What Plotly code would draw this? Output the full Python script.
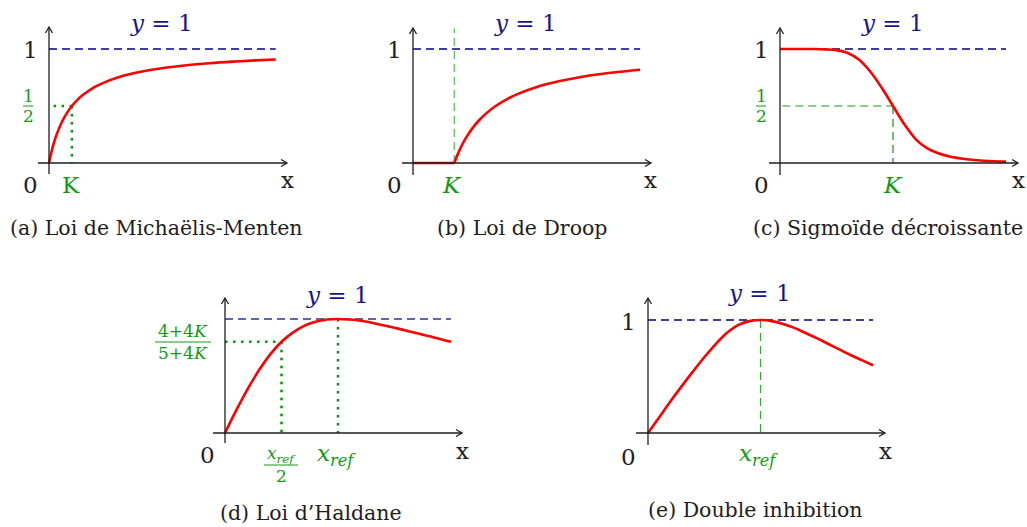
import plotly.graph_objects as go

W, H = 1027, 527

# ---- data ---------------------------------------------------------
# (a) Michaelis-Menten, x in units of K
mm_x = [0, 0.05, 0.1, 0.2, 0.3, 0.45, 0.6, 0.8, 1.0, 1.25, 1.5, 1.75, 2, 2.5, 3, 3.5, 4, 5, 6, 7, 8, 9, 9.9]
mm_y = [0, 0.048, 0.091, 0.167, 0.231, 0.31, 0.375, 0.444, 0.5, 0.556, 0.6, 0.636, 0.667, 0.714,
        0.75, 0.778, 0.8, 0.833, 0.857, 0.875, 0.889, 0.9, 0.908]
mm_K, mm_half = 1.0, 0.5

# (b) Droop, x in units of K
droop_x = [0, 1, 1.05, 1.1, 1.2, 1.3, 1.45, 1.6, 1.8, 2, 2.3, 2.6, 3, 3.5, 4, 4.5, 5, 5.5]
droop_y = [0, 0, 0.048, 0.091, 0.167, 0.231, 0.31, 0.375, 0.444, 0.5, 0.565, 0.615, 0.667,
           0.714, 0.75, 0.778, 0.8, 0.818]
droop_K = 1.0

# (c) sigmoide decroissante
sig_x = [0, 0.1, 0.2, 0.3, 0.4, 0.5, 0.6, 0.7, 0.8, 0.9, 1.0, 1.1, 1.2, 1.3, 1.4, 1.5, 1.6, 1.7, 1.8, 1.9, 2.0]
sig_y = [1, 1, 1, 1, 0.997, 0.99, 0.965, 0.905, 0.8, 0.66, 0.5, 0.34, 0.21, 0.13, 0.085, 0.057,
         0.04, 0.028, 0.02, 0.015, 0.012]
sig_K, sig_half = 1.0, 0.5

# (d) Haldane, x in units of x_ref
hal_x = [0, 0.1, 0.2, 0.3, 0.4, 0.5, 0.6, 0.7, 0.8, 0.9, 1.0, 1.1, 1.2, 1.3, 1.4, 1.5, 1.6, 1.7, 1.8, 1.9, 2.0]
hal_y = [0, 0.2, 0.385, 0.55, 0.69, 0.8, 0.88, 0.94, 0.975, 0.995, 1, 0.995, 0.985, 0.967, 0.945,
         0.923, 0.9, 0.874, 0.85, 0.824, 0.8]
hal_xref, hal_half_val = 1.0, 0.8

# (e) double inhibition
di_x = [0, 0.1, 0.2, 0.3, 0.4, 0.5, 0.6, 0.7, 0.8, 0.9, 1.0, 1.1, 1.2, 1.3, 1.4, 1.5, 1.6, 1.7, 1.8, 1.9, 2.0]
di_y = [0, 0.14, 0.28, 0.415, 0.545, 0.67, 0.785, 0.885, 0.955, 0.99, 1, 0.99, 0.965, 0.93, 0.885,
        0.84, 0.79, 0.74, 0.69, 0.645, 0.6]
di_xref = 1.0

captions = ['(a) Loi de Michaëlis-Menten', '(b) Loi de Droop', '(c) Sigmoïde décroissante',
            '(d) Loi d’Haldane', '(e) Double inhibition']

# ---- layout of the 5 panels (pixels) -------------------------------
# origin px, units px, box (l, t, r, b), axis arrows (xl, xr, yb, yt)
panels = [
    dict(o=(49, 163), u=(22.9, 114), box=(0, 0, 320, 200), ax=(38, 287, 174, 27)),
    dict(o=(413, 163), u=(41.3, 114), box=(340, 0, 680, 200), ax=(402, 651, 175, 28)),
    dict(o=(780, 163), u=(113, 114), box=(690, 0, 1027, 200), ax=(769, 1018, 175, 28)),
    dict(o=(225, 433), u=(113, 114), box=(150, 270, 480, 480), ax=(213, 462, 443, 298)),
    dict(o=(648, 433), u=(112.5, 113), box=(600, 270, 900, 480), ax=(636, 885, 445, 298)),
]

RED = '#ff0000'
NAVY = '#000080'
GREEN = '#129a12'
LGREEN = '#66bb66'
INK = '#1e1e1e'
FONT = 'DejaVu Serif'

fig = go.Figure()
layout = dict(width=W, height=H, margin=dict(l=0, r=0, t=0, b=0),
              paper_bgcolor='white', plot_bgcolor='white', showlegend=False)
annots = []
shapes = []


def px(x, y):
    return x / W, 1 - y / H


for i, p in enumerate(panels):
    n = '' if i == 0 else str(i + 1)
    ox, oy = p['o']
    ux, uy = p['u']
    l, t, r, b = p['box']
    layout['xaxis' + n] = dict(domain=[l / W, r / W], range=[(l - ox) / ux, (r - ox) / ux],
                               visible=False, fixedrange=True, anchor='y' + n)
    layout['yaxis' + n] = dict(domain=[1 - b / H, 1 - t / H], range=[(oy - b) / uy, (oy - t) / uy],
                               visible=False, fixedrange=True, anchor='x' + n)
    # axis lines with "->" heads
    xl, xr, yb, yt = p['ax']
    for (x0, y0, x1, y1) in [(xl, oy, xr, oy), (ox, yb, ox, yt)]:
        a0, b0 = px(x0, y0)
        a1, b1 = px(x1, y1)
        shapes.append(dict(type='line', xref='paper', yref='paper', x0=a0, y0=b0, x1=a1, y1=b1,
                           line=dict(color=INK, width=1.3)))
    hx, hy = xr, oy
    pts = [px(hx - 6, hy - 3.5), px(hx, hy), px(hx - 6, hy + 3.5)]
    shapes.append(dict(type='path', xref='paper', yref='paper',
                       path='M{},{} L{},{} L{},{}'.format(*[c for q in pts for c in q]),
                       line=dict(color=INK, width=1.3)))
    hx, hy = ox, yt
    pts = [px(hx - 3.5, hy + 6), px(hx, hy), px(hx + 3.5, hy + 6)]
    shapes.append(dict(type='path', xref='paper', yref='paper',
                       path='M{},{} L{},{} L{},{}'.format(*[c for q in pts for c in q]),
                       line=dict(color=INK, width=1.3)))


def line(xs, ys, k, color, width, dash='solid', shape='linear'):
    n = '' if k == 0 else str(k + 1)
    fig.add_trace(go.Scatter(x=xs, y=ys, mode='lines', xaxis='x' + n, yaxis='y' + n,
                             line=dict(color=color, width=width, dash=dash, shape=shape),
                             hoverinfo='skip'))


NAVY_DASH = '8px,5px'
DOT = '2.5px,5.5px'
GDASH = '8px,5px'

# (a)
line([0.2, mm_K], [mm_half, mm_half], 0, '#009900', 2.5, DOT)
line([mm_K, mm_K], [mm_half, 0], 0, '#009900', 2.5, DOT)
line([0, mm_x[-1]], [1, 1], 0, NAVY, 1.4, NAVY_DASH)
line(mm_x, mm_y, 0, RED, 2.6, shape='spline')

# (b)
line([droop_K, droop_K], [0, 1.18], 1, LGREEN, 1.3, GDASH)
line([0, droop_x[-1]], [1, 1], 1, NAVY, 1.4, NAVY_DASH)
line(droop_x[:2], droop_y[:2], 1, RED, 2.6)
line(droop_x[1:], droop_y[1:], 1, RED, 2.6, shape='spline')

# (c)
line([0.02, sig_K], [sig_half, sig_half], 2, LGREEN, 1.3, GDASH)
line([sig_K, sig_K], [sig_half, 0], 2, '#228822', 1.2, GDASH)
line([0, sig_x[-1]], [1, 1], 2, NAVY, 1.4, NAVY_DASH)
line(sig_x, sig_y, 2, RED, 2.6, shape='spline')

# (d)
line([0, hal_xref / 2], [hal_half_val, hal_half_val], 3, '#009900', 2.5, DOT)
line([hal_xref / 2, hal_xref / 2], [hal_half_val, 0], 3, '#009900', 2.5, DOT)
line([hal_xref, hal_xref], [1, 0], 3, '#009900', 2.5, DOT)
line([0, hal_x[-1]], [1, 1], 3, '#30309a', 1.4, NAVY_DASH)
line(hal_x, hal_y, 3, RED, 2.6, shape='spline')

# (e)
line([di_xref, di_xref], [1, 0], 4, '#33aa33', 1.2, GDASH)
line([0, di_x[-1]], [1, 1], 4, NAVY, 1.4, NAVY_DASH)
line(di_x, di_y, 4, RED, 2.6, shape='spline')


# ---- texts ---------------------------------------------------------
def lab(text, cx, cy, size=23, color=INK):
    x, y = px(cx, cy)
    annots.append(dict(text=text, x=x, y=y, xref='paper', yref='paper',
                       showarrow=False, xanchor='center', yanchor='middle',
                       font=dict(family=FONT, size=size, color=color)))


def frac(num, den, cx, ybar, hw, size=17, color=GREEN, off=10):
    lab(num, cx, ybar - off, size, color)
    lab(den, cx, ybar + off, size, color)
    x0, y0 = px(cx - hw, ybar)
    x1, _ = px(cx + hw, ybar)
    shapes.append(dict(type='line', xref='paper', yref='paper', x0=x0, x1=x1, y0=y0, y1=y0,
                       line=dict(color=color, width=1)))


Y1 = '<i>y</i> = 1'
XREF = '<i>x<sub>ref</sub></i>'
NAVY_T = '#15158c'

# (a)
lab(Y1, 161, 23, 23, NAVY_T)
lab('1', 30, 50)
frac('1', '2', 28, 106, 5)
lab('0', 30, 185)
lab('K', 71, 185, 23, GREEN)
lab('x', 287, 180)
# (b)
lab(Y1, 525, 23, 23, NAVY_T)
lab('1', 394, 50)
lab('0', 394, 185)
lab('<i>K</i>', 452, 185, 23, GREEN)
lab('x', 650, 180)
# (c)
lab(Y1, 892, 23, 23, NAVY_T)
lab('1', 761, 50)
frac('1', '2', 761, 106, 5)
lab('0', 761, 185)
lab('<i>K</i>', 893, 185, 23, GREEN)
lab('x', 1018, 180)
# (d)
lab(Y1, 337, 295, 23, NAVY_T)
frac('4+4<i>K</i>', '5+4<i>K</i>', 183, 342, 28, 17, off=11)
lab('0', 207, 455)
frac(XREF, '2', 281, 465, 17, 17, off=11)
lab(XREF, 336, 455, 23, GREEN)
lab('x', 462, 451)
# (e)
lab(Y1, 759, 293, 23, NAVY_T)
lab('1', 628, 322)
lab('0', 628, 457)
lab(XREF, 758, 455, 23, GREEN)
lab('x', 885, 451)

cap_pos = [(156, 228), (522, 228), (888, 228), (311, 513), (755, 510)]
for c, (cx, cy) in zip(captions, cap_pos):
    lab(c, cx, cy, 20.5)

layout['annotations'] = annots
layout['shapes'] = shapes
fig.update_layout(**layout)
fig.write_html("out.html", config={'displayModeBar': False},
               post_script="document.body.style.margin='0px';")
